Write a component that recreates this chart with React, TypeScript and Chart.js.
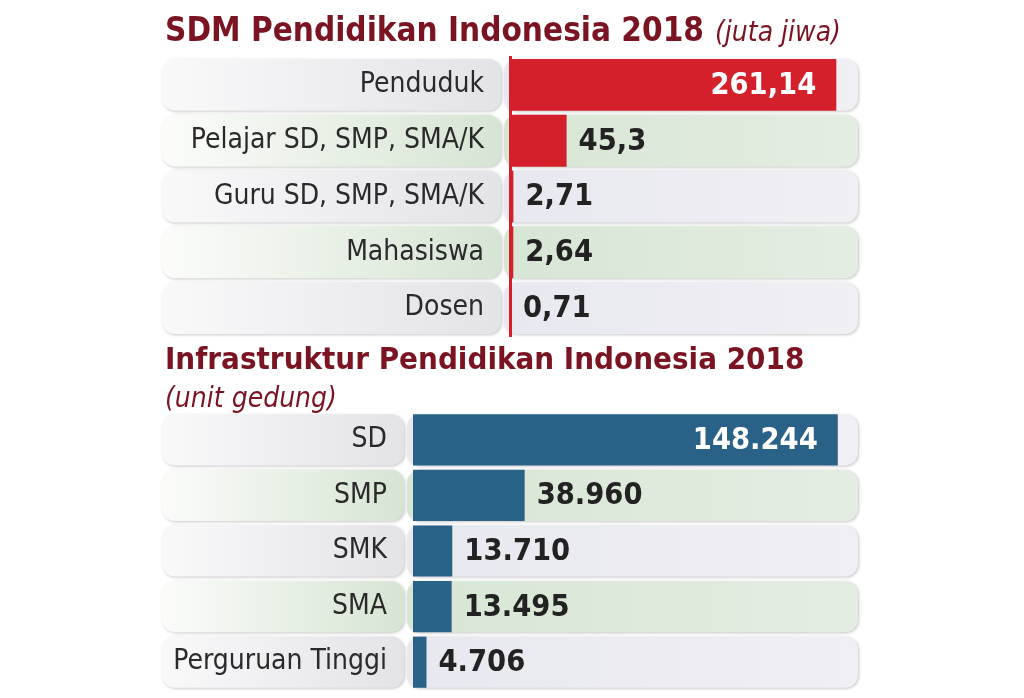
import { useEffect, useRef } from "react";
import { Chart, registerables } from "chart.js";

Chart.register(...registerables);

const FONT = '"Liberation Sans Narrow", "DejaVu Sans Condensed", "Roboto Condensed", Roboto, sans-serif';

const sdmTitle = "SDM Pendidikan Indonesia 2018";
const sdmUnit = "(juta jiwa)";
const sdmCategories = ["Penduduk", "Pelajar SD, SMP, SMA/K", "Guru SD, SMP, SMA/K", "Mahasiswa", "Dosen"];
const sdmValues = [261.14, 45.3, 2.71, 2.64, 0.71];

const infraTitle = "Infrastruktur Pendidikan Indonesia 2018";
const infraUnit = "(unit gedung)";
const infraCategories = ["SD", "SMP", "SMK", "SMA", "Perguruan Tinggi"];
const infraValues = [148244, 38960, 13710, 13495, 4706];

function formatValue(v: number): string {
  if (Number.isInteger(v)) return String(v).replace(/\B(?=(\d{3})+(?!\d))/g, ".");
  return String(v).replace(".", ",");
}

function pill(ctx: CanvasRenderingContext2D, x: number, y: number, w: number, h: number, c1: string, c2: string) {
  const g = ctx.createLinearGradient(x, 0, x + w, 0);
  g.addColorStop(0, c1);
  g.addColorStop(1, c2);
  ctx.save();
  ctx.shadowColor = "rgba(0,0,0,0.22)";
  ctx.shadowBlur = 3;
  ctx.shadowOffsetX = 1;
  ctx.shadowOffsetY = 1;
  ctx.fillStyle = g;
  ctx.beginPath();
  ctx.roundRect(x, y, w, h, 13);
  ctx.fill();
  ctx.restore();
}

const rowPills = {
  id: "rowPills",
  beforeDraw(chart: any, _a: any, opts: any) {
    const { ctx, chartArea } = chart;
    const ys = chart.scales.y;
    const n = chart.data.labels.length;
    const pitch = (chartArea.bottom - chartArea.top) / n;
    const h = pitch * opts.fill;
    for (let i = 0; i < n; i++) {
      const cy = ys.getPixelForValue(i);
      const green = i % 2 === 1;
      pill(ctx, ys.left, cy - h / 2, ys.right - opts.gap - ys.left, h,
        green ? "#fbfcfa" : "#f9f9fa", green ? "#d6e5d3" : "#e3e3e8");
      pill(ctx, chartArea.left - 6, cy - h / 2, chartArea.right - chartArea.left + 6, h,
        green ? "#d7e6d4" : "#e8e8f0", green ? "#e4ede2" : "#efeff4");
    }
  },
};

const headings = {
  id: "headings",
  afterDraw(chart: any, _a: any, opts: any) {
    const ctx: CanvasRenderingContext2D = chart.ctx;
    const x = chart.scales.y.left + 3;
    ctx.save();
    ctx.fillStyle = "#7a1422";
    ctx.textBaseline = "middle";
    ctx.textAlign = "left";
    ctx.font = `bold ${opts.size}px ${FONT}`;
    ctx.fillText(opts.title, x, opts.titleY);
    const w = ctx.measureText(opts.title).width;
    ctx.font = `italic ${opts.unitSize}px ${FONT}`;
    if (opts.inline) ctx.fillText(opts.unit, x + w + 11, opts.titleY + 2);
    else ctx.fillText(opts.unit, x, opts.unitY);
    ctx.restore();
  },
};

const valueLabels = {
  id: "valueLabels",
  afterDatasetsDraw(chart: any) {
    const ctx: CanvasRenderingContext2D = chart.ctx;
    const meta = chart.getDatasetMeta(0);
    const vals = chart.data.datasets[0].data;
    ctx.save();
    ctx.textBaseline = "middle";
    ctx.font = `bold 30.5px ${FONT}`;
    meta.data.forEach((bar: any, i: number) => {
      const text = formatValue(vals[i]);
      const inside = bar.x - bar.base > chart.chartArea.width * 0.5;
      if (inside) {
        ctx.fillStyle = "#ffffff";
        ctx.textAlign = "right";
        ctx.fillText(text, bar.x - 20, bar.y + 1);
      } else {
        ctx.fillStyle = "#222222";
        ctx.textAlign = "left";
        ctx.fillText(text, bar.x + 12, bar.y + 1);
      }
    });
    ctx.restore();
  },
};

function makeConfig(opts: {
  labels: string[]; values: number[]; color: string; max: number; axisWidth: number;
  padding: any; border: boolean; heading: any; fill: number;
}): any {
  return {
    type: "bar",
    data: {
      labels: opts.labels,
      datasets: [{
        data: opts.values,
        backgroundColor: opts.color,
        borderWidth: 0,
        categoryPercentage: opts.fill,
        barPercentage: 1,
      }],
    },
    options: {
      indexAxis: "y",
      responsive: false,
      animation: false,
      layout: { padding: opts.padding },
      plugins: {
        legend: { display: false },
        tooltip: { enabled: false },
        rowPills: { fill: opts.fill, gap: 9 },
        headings: opts.heading,
      },
      scales: {
        x: { display: false, min: 0, max: opts.max },
        y: {
          afterFit: (s: any) => { s.width = opts.axisWidth; s.paddingTop = 0; s.paddingBottom = 0; },
          grid: { display: false, drawTicks: false },
          border: { display: opts.border, color: opts.color, width: 3 },
          ticks: { color: "#2a2a2a", padding: 26, font: { family: FONT, size: 28 } },
        },
      },
    },
    plugins: [rowPills, valueLabels, headings],
  };
}

export default function App() {
  const c1 = useRef<HTMLCanvasElement>(null);
  const c2 = useRef<HTMLCanvasElement>(null);
  useEffect(() => {
    const a = new Chart(c1.current!, makeConfig({
      labels: sdmCategories, values: sdmValues, color: "#d4202a", max: 278.5, axisWidth: 348,
      padding: { left: 162, right: 166, top: 57, bottom: 9 }, border: true, fill: 0.93,
      heading: { title: sdmTitle, unit: sdmUnit, size: 33, unitSize: 28, titleY: 32, inline: true },
    }));
    const b = new Chart(c2.current!, makeConfig({
      labels: infraCategories, values: infraValues, color: "#2a6186", max: 155300, axisWidth: 251,
      padding: { left: 162, right: 166, top: 67, bottom: 8 }, border: false, fill: 0.92,
      heading: { title: infraTitle, unit: infraUnit, size: 31, unitSize: 28, titleY: 16, unitY: 55, inline: false },
    }));
    return () => { a.destroy(); b.destroy(); };
  }, []);
  return (
    <div style={{ position: "fixed", left: 0, top: 0, width: 1024, height: 698, background: "#fff" }}>
      <canvas ref={c1} width={1024} height={345} style={{ position: "absolute", left: 0, top: 0 }} />
      <canvas ref={c2} width={1024} height={353} style={{ position: "absolute", left: 0, top: 345 }} />
    </div>
  );
}
